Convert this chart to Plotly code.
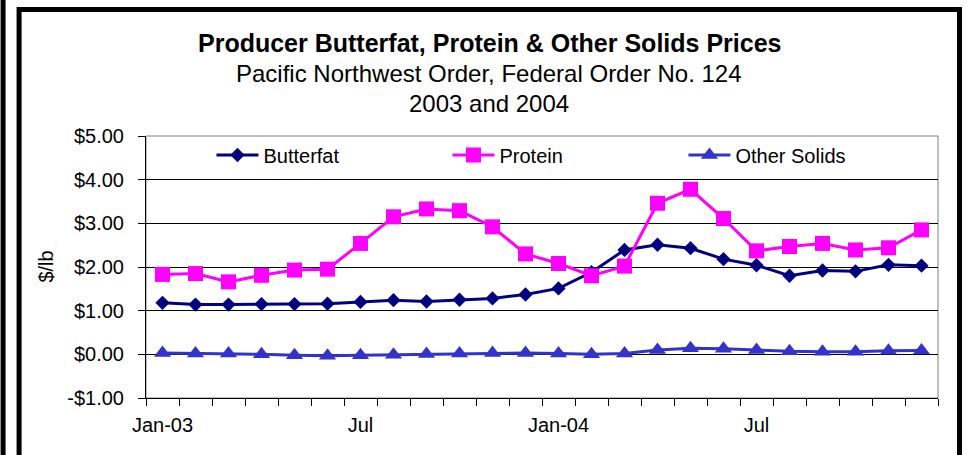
import plotly.graph_objects as go

months = ["Jan-03", "Feb-03", "Mar-03", "Apr-03", "May-03", "Jun-03",
          "Jul-03", "Aug-03", "Sep-03", "Oct-03", "Nov-03", "Dec-03",
          "Jan-04", "Feb-04", "Mar-04", "Apr-04", "May-04", "Jun-04",
          "Jul-04", "Aug-04", "Sep-04", "Oct-04", "Nov-04", "Dec-04"]
month_labels = ["Jan-03", "", "", "", "", "", "Jul", "", "", "", "", "",
                "Jan-04", "", "", "", "", "", "Jul", "", "", "", "", ""]

butterfat = [1.18, 1.14, 1.14, 1.15, 1.15, 1.16, 1.20, 1.24, 1.21, 1.25, 1.28, 1.37,
             1.51, 1.88, 2.39, 2.51, 2.43, 2.18, 2.04, 1.80, 1.92, 1.90, 2.05, 2.03]
protein = [1.83, 1.85, 1.66, 1.81, 1.93, 1.95, 2.54, 3.15, 3.33, 3.29, 2.92, 2.30,
           2.08, 1.80, 2.02, 3.46, 3.78, 3.11, 2.37, 2.47, 2.54, 2.39, 2.44, 2.85]
other_solids = [0.03, 0.02, 0.02, 0.00, -0.02, -0.03, -0.02, -0.01, 0.01, 0.02, 0.03, 0.03,
                0.02, 0.00, 0.02, 0.10, 0.14, 0.13, 0.10, 0.07, 0.06, 0.06, 0.08, 0.09]

y_tickvals = [-1, 0, 1, 2, 3, 4, 5]
y_ticktext = ["-$1.00", "$0.00", "$1.00", "$2.00", "$3.00", "$4.00", "$5.00"]

FONT = "Liberation Sans, Arial, sans-serif"

x_idx = list(range(len(months)))
label_pos = [i for i, t in enumerate(month_labels) if t]
label_txt = [month_labels[i] for i in label_pos]

fig = go.Figure()
fig.add_trace(go.Scatter(x=x_idx, y=butterfat, name="Butterfat", mode="lines+markers",
                         line=dict(color="#000080", width=3),
                         marker=dict(symbol="diamond", size=11, color="#000080")))
fig.add_trace(go.Scatter(x=x_idx, y=protein, name="Protein", mode="lines+markers",
                         line=dict(color="#FF00FF", width=3),
                         marker=dict(symbol="square", size=15, color="#FF00FF")))
fig.add_trace(go.Scatter(x=x_idx, y=other_solids, name="Other Solids", mode="lines+markers",
                         line=dict(color="#3333CC", width=3),
                         marker=dict(symbol="triangle-up", size=15, color="#3333CC")))

L, R, T, B = 145.5, 35, 136, 57
W, H = 973, 455
pw = W - L - R
ph = H - T - B


def px(x):
    return (x - L) / pw


def py(y):
    return (H - B - y) / ph


fig.update_layout(
    width=W, height=H,
    margin=dict(l=L, r=R, t=T, b=B, pad=0),
    paper_bgcolor="white", plot_bgcolor="white",
    font=dict(family=FONT, size=20, color="black"),
    showlegend=True,
    legend=dict(orientation="h", x=px(211), y=py(155), xanchor="left", yanchor="middle",
                bgcolor="rgba(0,0,0,0)", font=dict(size=20),
                entrywidth=179, entrywidthmode="pixels", itemwidth=42),
    xaxis=dict(range=[-0.5, len(months) - 0.5], tickmode="array",
               tickvals=label_pos, ticktext=label_txt,
               ticks="outside", ticklen=0, showgrid=False, zeroline=False,
               showline=True, linecolor="black", linewidth=1,
               tickfont=dict(size=20), ticklabelstandoff=9,
               minor=dict(tickmode="array",
                          tickvals=[i - 0.5 for i in range(len(months) + 1)],
                          ticks="outside", ticklen=7, tickcolor="black", tickwidth=1,
                          showgrid=False)),
    yaxis=dict(range=[-1, 5], tickmode="array", tickvals=y_tickvals, ticktext=y_ticktext,
               ticks="outside", ticklen=7, tickcolor="black",
               showgrid=True, gridcolor="black", gridwidth=1, zeroline=False,
               showline=True, linecolor="black", linewidth=1,
               tickfont=dict(size=20), ticklabelstandoff=10),
    shapes=[
        dict(type="rect", xref="paper", yref="paper", x0=0, x1=1, y0=0, y1=1,
             line=dict(color="#808080", width=1), layer="below"),
        dict(type="rect", xref="paper", yref="paper",
             x0=px(18.5), x1=px(959.5), y0=py(9.5), y1=py(480),
             line=dict(color="black", width=5), fillcolor="rgba(0,0,0,0)"),
        dict(type="rect", xref="paper", yref="paper",
             x0=px(0), x1=px(5), y0=py(-10), y1=py(480),
             line=dict(width=0), fillcolor="black"),
    ],
    annotations=[
        dict(text="<b>Producer Butterfat, Protein & Other Solids Prices</b>",
             xref="paper", yref="paper", x=px(489), y=py(43), showarrow=False,
             xanchor="center", yanchor="middle", font=dict(size=25)),
        dict(text="Pacific Northwest Order, Federal Order No. 124",
             xref="paper", yref="paper", x=px(489), y=py(73), showarrow=False,
             xanchor="center", yanchor="middle", font=dict(size=24)),
        dict(text="2003 and 2004",
             xref="paper", yref="paper", x=px(489), y=py(103), showarrow=False,
             xanchor="center", yanchor="middle", font=dict(size=24)),
        dict(text="$/lb", xref="paper", yref="paper", x=px(45), y=0.5, showarrow=False,
             textangle=-90, xanchor="center", yanchor="middle", font=dict(size=20)),
    ],
)

fig.write_html("out.html", config={"displayModeBar": False},
               post_script="document.body.style.margin='0';")
